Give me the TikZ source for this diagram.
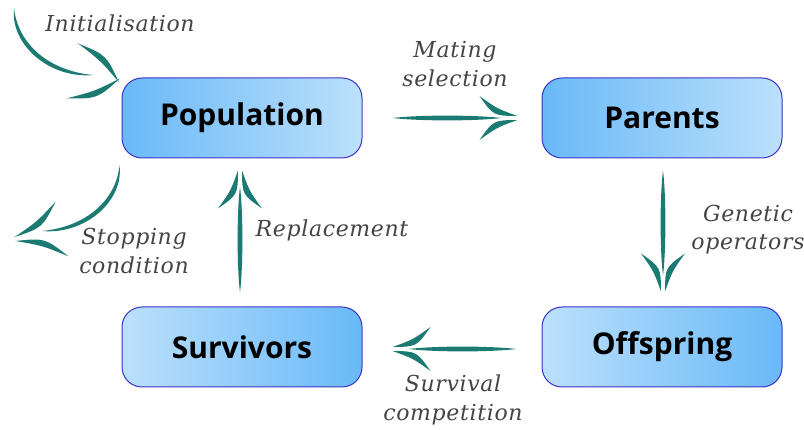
\documentclass[tikz,border=0pt]{standalone}
\usepackage{fontspec}
\usetikzlibrary{calc,positioning}
\newfontfamily\boxfont{Open Sans}
\newfontfamily\labfont{DejaVu Serif}[LetterSpace=3]
\definecolor{arrowteal}{RGB}{27,122,114}
\definecolor{boxedge}{RGB}{60,50,200}
\definecolor{boxdark}{RGB}{105,185,248}
\definecolor{boxlight}{RGB}{188,224,251}
\definecolor{labgray}{RGB}{68,68,68}
\tikzset{
  box/.style={rounded corners=20pt, draw=boxedge, line width=1pt,
    minimum width=240pt, minimum height=80pt,
    font=\boxfont\bfseries\fontsize{30}{30}\selectfont},
  darkleft/.style={left color=boxdark, right color=boxlight},
  darkright/.style={left color=boxlight, right color=boxdark},
  lab/.style={font=\labfont\itshape\fontsize{22}{28.5}\selectfont, text=labgray, align=center},
  head len/.store in=\headlen, head len=38pt,
  head wid/.store in=\headwid, head wid=22pt,
  barbs/.style={to path={
    ($(\tikztotarget)!\headlen!(\tikztostart)!\headwid!90:(\tikztostart)$) coordinate (b1)
    ($(\tikztotarget)!\headlen!(\tikztostart)!\headwid!-90:(\tikztostart)$) coordinate (b2)
    ($(\tikztotarget)!2pt!90:(\tikztostart)$) coordinate (t1)
    ($(\tikztotarget)!2pt!-90:(\tikztostart)$) coordinate (t2)
    (b1) .. controls ($(b1)!0.5!(t1)!11pt!90:(t1)$) .. (t1)
         .. controls ($(b1)!0.5!(t1)!3pt!90:(t1)$) .. (b1) -- cycle
    (b2) .. controls ($(b2)!0.5!(t2)!11pt!-90:(t2)$) .. (t2)
         .. controls ($(b2)!0.5!(t2)!3pt!-90:(t2)$) .. (b2) -- cycle}},
  swoosh/.style={to path={
    ($(\tikztotarget)!16pt!(\tikztostart)$) coordinate (se)
    (\tikztostart) .. controls ($(\tikztostart)!0.25!(se)!3.2pt!90:(se)$) and ($(\tikztostart)!0.75!(se)!3.2pt!90:(se)$) .. (se)
      .. controls ($(\tikztostart)!0.75!(se)!3.2pt!-90:(se)$) and ($(\tikztostart)!0.25!(se)!3.2pt!-90:(se)$) .. (\tikztostart) -- cycle
    ($(\tikztotarget)!\headlen!(\tikztostart)!\headwid!90:(\tikztostart)$) coordinate (b1)
    ($(\tikztotarget)!\headlen!(\tikztostart)!\headwid!-90:(\tikztostart)$) coordinate (b2)
    ($(\tikztotarget)!2pt!90:(\tikztostart)$) coordinate (t1)
    ($(\tikztotarget)!2pt!-90:(\tikztostart)$) coordinate (t2)
    (b1) .. controls ($(b1)!0.5!(t1)!11pt!90:(t1)$) .. (t1)
         .. controls ($(b1)!0.5!(t1)!3pt!90:(t1)$) .. (b1) -- cycle
    (b2) .. controls ($(b2)!0.5!(t2)!11pt!-90:(t2)$) .. (t2)
         .. controls ($(b2)!0.5!(t2)!3pt!-90:(t2)$) .. (b2) -- cycle}}
}
\begin{document}
\begin{tikzpicture}[x=1pt,y=-1pt]
\useasboundingbox (0,0) rectangle (804,430);

% the four boxes
\node[box,darkleft] (pop) at (242,118) {Population};
\node[box,darkleft] (par) at (662,118) {Parents};
\node[box,darkright] (surv) at (242,347) {Survivors};
\node[box,darkright] (off) at (662,347) {Offspring};

% arrow ends
\coordinate (ms a) at ([xshift=30pt]pop.east);
\coordinate (ms b) at ([xshift=-24pt]par.west);
\coordinate (go a) at ([shift={(1,12)}]par.south);
\coordinate (go b) at ([shift={(1,-15)}]off.north);
\coordinate (sc a) at ([shift={(-25,2)}]off.west);
\coordinate (sc b) at ([shift={(30,2)}]surv.east);
\coordinate (rp a) at ([shift={(-2,-14)}]surv.north);
\coordinate (rp b) at ([shift={(-2,12)}]pop.south);
\coordinate (in a) at (14,8);
\coordinate (in e) at (93,75);
\coordinate (in d) at (73,71);
\coordinate (in b) at ([shift={(-2,3)}]pop.north west);
\coordinate (st a) at ([shift={(-2,7)}]pop.south west);
\coordinate (st e) at (42,231);
\coordinate (st d) at (62,229);
\coordinate (st b) at (15,239);

% straight arrows
\fill[arrowteal] (ms a) to[swoosh] (ms b);
\fill[arrowteal] (go a) to[swoosh] (go b);
\fill[arrowteal] (sc a) to[swoosh] (sc b);
\fill[arrowteal] (rp a) to[swoosh] (rp b);

% curved arrows
\fill[arrowteal] (in a) .. controls (10,45) and (50,79) .. (in e)
  .. controls (50,71) and (18,45) .. (in a) -- cycle;
\fill[arrowteal,head len=48pt,head wid=28pt] (in d) to[barbs] (in b);
\fill[arrowteal] (st a) .. controls (124,201) and (85,235) .. (st e)
  .. controls (85,227) and (116,201) .. (st a) -- cycle;
\fill[arrowteal,head len=48pt,head wid=28pt] (st d) to[barbs] (st b);

% labels
\node[lab] (in lab) at (120,23) {Initialisation};
\node[lab] (ms lab) at (455,64) {Mating\\selection};
\node[lab] (go lab) at (748,229.5) {Genetic\\operators};
\node[lab] (sc lab) at (453,400) {Survival\\competition};
\node[lab] (rp lab) at (332,230) {Replacement};
\node[lab] (st lab) at (134,251) {Stopping\\condition};
\end{tikzpicture}
\end{document}
